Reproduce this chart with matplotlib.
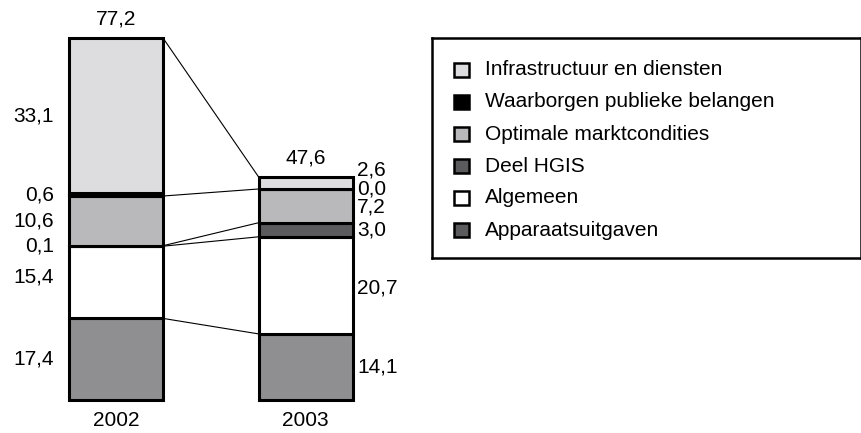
import matplotlib.pyplot as plt
from matplotlib.patches import Rectangle

plt.rcParams['font.family'] = ['Liberation Sans', 'DejaVu Sans']

years = ["2002", "2003"]
# segments from bottom to top
categories = ["Apparaatsuitgaven", "Algemeen", "Deel HGIS",
              "Optimale marktcondities", "Waarborgen publieke belangen",
              "Infrastructuur en diensten"]
values_2002 = [17.4, 15.4, 0.1, 10.6, 0.6, 33.1]
values_2003 = [14.1, 20.7, 3.0, 7.2, 0.0, 2.6]
totals = [77.2, 47.6]

colors = ["#8f8f91", "#ffffff", "#5b5b5d", "#b9b9bb", "#000000", "#dddde0"]
legend_colors = ["#5b5b5d", "#ffffff", "#5b5b5d", "#b9b9bb", "#000000", "#dddde0"]

fmt = lambda v: f"{v:.1f}".replace(".", ",")

W, H = 862, 433
fig = plt.figure(figsize=(W / 100, H / 100), dpi=100)

# main axes in pixel-like x units, data units in y
ax = fig.add_axes([0, 0, 420 / W, 1])
ppu = 362 / totals[0]
ax.set_xlim(0, 420)
ax.set_ylim(-(H - 400) / ppu, 400 / ppu)
ax.axis("off")

centers = [116, 305.5]
width = 94

series = [values_2002, values_2003]
cums = []
for xi, vals in zip(centers, series):
    bottom = 0
    cum = [0]
    for v, c in zip(vals, colors):
        ax.bar(xi, v, width=width, bottom=bottom, color=c,
               edgecolor="black", linewidth=2.2, zorder=3)
        bottom += v
        cum.append(bottom)
    cums.append(cum)

# connecting lines between segment boundaries
for k in [1, 2, 3, 4, 6]:
    ax.plot([centers[0] + width / 2, centers[1] - width / 2],
            [cums[0][k], cums[1][k]], color="black", lw=0.8, zorder=2)

fs = 15
nudge_2002 = {1: 1.2}
nudge_2003 = {1: -0.6, 3: -0.3, 4: -0.1, 5: 2.7}
for i, v in enumerate(values_2002):
    y = (cums[0][i] + cums[0][i + 1]) / 2 + nudge_2002.get(i, 0)
    ax.text(54, y, fmt(v), ha="right", va="center", fontsize=fs)
for i, v in enumerate(values_2003):
    y = (cums[1][i] + cums[1][i + 1]) / 2 + nudge_2003.get(i, 0)
    ax.text(357, y, fmt(v), ha="left", va="center", fontsize=fs)

for xi, t, yr in zip(centers, totals, years):
    ax.text(xi, t + 2.0, fmt(t), ha="center", va="bottom", fontsize=fs)
    ax.text(xi, -4.3, yr, ha="center", va="center", fontsize=fs)

# legend box
lax = fig.add_axes([432 / W, (H - 258) / H, (861 - 432) / W, (258 - 38) / H])
lax.set_xlim(0, 861 - 432)
lax.set_ylim(258 - 38, 0)
lax.set_xticks([])
lax.set_yticks([])
for s in lax.spines.values():
    s.set_linewidth(1.8)

for j, name in enumerate(reversed(categories)):
    col = list(reversed(legend_colors))[j]
    yc = 32 + j * 32
    lax.add_patch(Rectangle((22, yc - 7), 15, 14, facecolor=col,
                            edgecolor="black", linewidth=1.8))
    lax.text(53, yc, name, ha="left", va="center", fontsize=fs)

fig.savefig("out.png", dpi=100)
